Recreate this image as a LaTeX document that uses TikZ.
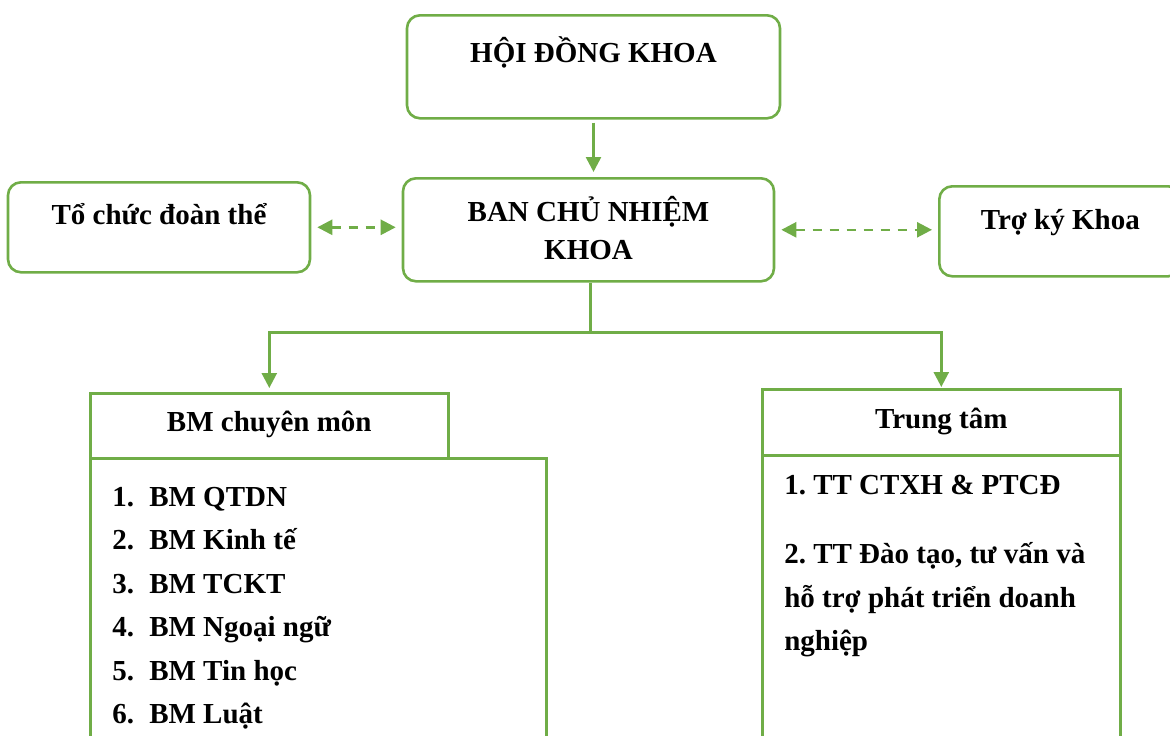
\documentclass[tikz,border=0pt]{standalone}
\usepackage{fontspec}
\setmainfont{Liberation Serif}
\usetikzlibrary{arrows.meta}
\usetikzlibrary{calc}
\usetikzlibrary{positioning}
\definecolor{khgreen}{RGB}{112,173,71}
\tikzset{rbox/.style={draw=khgreen,line width=2.6pt,rounded corners=13pt,inner sep=0pt,align=flush center,
    font=\bfseries\frenchspacing\fontsize{29}{38}\selectfont}}
\tikzset{sbox/.style={draw=khgreen,line width=2.6pt,inner ysep=0pt,inner xsep=0pt,
    font=\bfseries\frenchspacing\fontsize{29}{43.5}\selectfont}}
\tikzset{arrow/.style={draw=khgreen,line width=2.6pt,-{Triangle[length=15pt,width=15pt]}}}
\tikzset{dasharrow/.style={draw=khgreen,line width=2.6pt,dash pattern=on 9pt off 8pt,
    {Triangle[length=15pt,width=15pt]}-{Triangle[length=15pt,width=15pt]},shorten >=6pt,shorten <=6pt}}
\newcommand{\itemno}[1]{\makebox[37pt][l]{#1}}

\begin{document}
\begin{tikzpicture}[x=1pt,y=-1pt]
        \useasboundingbox (0,0) rectangle (1170,736);
        \clip (0,0) rectangle (1170,736);

        \node[rbox,anchor=north,text width=373pt,text height=47pt,text depth=56pt] (hdk) at (593.5,14) {HỘI ĐỒNG KHOA};
        \node[rbox,anchor=north,text width=371pt,text height=43pt,text depth=60pt] (bcn) at (588.5,177) {BAN CHỦ NHIỆM\\KHOA};
        \node[rbox,anchor=north,text width=302pt,text height=42pt,text depth=48pt] (toc) at (159,181) {Tổ chức đoàn thể};
        \node[rbox,anchor=north west,text width=242pt,text height=43pt,text depth=47pt] (tro) at (938,185) {Trợ ký Khoa};

        \node[sbox,anchor=north west,align=flush center,text width=358pt,text height=38pt,text depth=27pt] (bmh) at (89,392) {BM chuyên môn};
        \node[sbox,anchor=north west,align=flush left,inner xsep=22pt,text width=412pt,text height=48pt,text depth=300pt] (bmb) at (89,457)
            {\itemno{1.}BM QTDN\\
             \itemno{2.}BM Kinh tế\\
             \itemno{3.}BM TCKT\\
             \itemno{4.}BM Ngoại ngữ\\
             \itemno{5.}BM Tin học\\
             \itemno{6.}BM Luật};

        \node[sbox,anchor=north west,align=flush center,text width=358pt,text height=39pt,text depth=27pt] (tth) at (761,388) {Trung tâm};
        \node[sbox,anchor=north west,align=flush left,inner xsep=22pt,text width=314pt,text height=39pt,text depth=300pt] (ttb) at (761,454)
            {1. TT CTXH \& PTCĐ\\[26pt]
             2. TT Đào tạo, tư vấn và\\
             hỗ trợ phát triển doanh\\
             nghiệp};

        \draw[arrow,shorten <=3pt,shorten >=5pt] (hdk.south) -- (hdk.south |- bcn.north);
        \draw[dasharrow] (toc.east) -- (toc.east -| bcn.west);
        \draw[dasharrow] (bcn.east) -- (bcn.east -| tro.west);

        \coordinate (split) at ($(bcn.south)+(2,50)$);
        \draw[draw=khgreen,line width=2.6pt] (bcn.south -| split) -- (split);
        \draw[arrow,shorten >=4pt] (split) -| (bmh.north);
        \draw[arrow,shorten >=1pt] (split) -| (tth.north);
    \end{tikzpicture}
\end{document}
